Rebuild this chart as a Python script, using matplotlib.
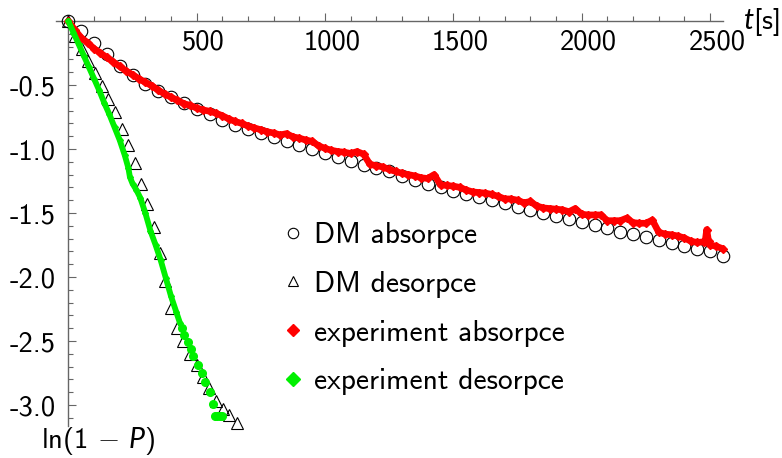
import matplotlib
matplotlib.use('Agg')
import matplotlib.pyplot as plt
import matplotlib.transforms as mtransforms
from matplotlib.lines import Line2D

# ---------------- data ----------------
dm_abs_t = [0, 50, 100, 150, 200, 250, 300, 350, 400, 450, 500, 550, 600, 650, 700,
            750, 800, 850, 900, 950, 1000, 1050, 1100, 1150, 1200, 1250, 1300, 1350,
            1400, 1450, 1500, 1550, 1600, 1650, 1700, 1750, 1800, 1850, 1900, 1950,
            2000, 2050, 2100, 2150, 2200, 2250, 2300, 2350, 2400, 2450, 2500, 2550]
dm_abs_y = [0, -0.08, -0.17, -0.26, -0.35, -0.42, -0.49, -0.545, -0.595, -0.64, -0.685,
            -0.73, -0.77, -0.81, -0.84, -0.875, -0.905, -0.94, -0.97, -1.0, -1.03, -1.06,
            -1.095, -1.125, -1.15, -1.175, -1.21, -1.24, -1.27, -1.3, -1.325, -1.35,
            -1.375, -1.4, -1.425, -1.45, -1.475, -1.5, -1.52, -1.55, -1.57, -1.595, -1.62,
            -1.645, -1.665, -1.685, -1.71, -1.735, -1.76, -1.78, -1.8, -1.835]

dm_des_t = [0, 26, 52, 78, 104, 130, 156, 182, 208, 234, 260, 283, 308, 334, 356, 378,
            400, 422, 448, 474, 500, 524, 549, 576, 601, 627, 656]
dm_des_y = [0, -0.12, -0.22, -0.31, -0.41, -0.51, -0.61, -0.71, -0.84, -0.97, -1.11,
            -1.27, -1.43, -1.61, -1.81, -2.03, -2.24, -2.40, -2.50, -2.60, -2.69, -2.78,
            -2.87, -2.97, -3.03, -3.08, -3.14]

exp_abs_t = [0, 25, 50, 75, 100, 125, 150, 175, 200, 225, 250, 275, 300, 325, 350, 375,
             400, 425, 450, 475, 500, 525, 550, 575, 600, 625, 650, 675, 700, 725, 750,
             775, 800, 825, 850, 875, 900, 925, 950, 975, 1000, 1025, 1050, 1075, 1100,
             1125, 1150, 1175, 1200, 1225, 1250, 1275, 1300, 1325, 1350, 1375, 1400,
             1425, 1450, 1475, 1500, 1525, 1550, 1575, 1600, 1625, 1650, 1675, 1700,
             1725, 1750, 1775, 1800, 1825, 1850, 1875, 1900, 1925, 1950, 1975, 2000,
             2025, 2050, 2075, 2100, 2125, 2150, 2175, 2200, 2225, 2250, 2275, 2300,
             2325, 2350, 2375, 2400, 2425, 2450, 2475, 2481, 2487, 2494, 2500, 2525, 2550]
exp_abs_y = [0, -0.07, -0.13, -0.17, -0.215, -0.25, -0.285, -0.32, -0.355, -0.39, -0.42,
             -0.45, -0.48, -0.505, -0.54, -0.57, -0.595, -0.62, -0.645, -0.66, -0.68,
             -0.695, -0.705, -0.72, -0.74, -0.765, -0.785, -0.80, -0.82, -0.835, -0.85,
             -0.865, -0.875, -0.89, -0.88, -0.905, -0.915, -0.93, -0.94, -0.975, -0.995,
             -1.01, -1.02, -1.025, -1.035, -1.02, -1.04, -1.12, -1.13, -1.14, -1.16,
             -1.175, -1.19, -1.20, -1.21, -1.225, -1.23, -1.20, -1.28, -1.285, -1.29,
             -1.30, -1.32, -1.335, -1.34, -1.345, -1.355, -1.37, -1.39, -1.39, -1.40,
             -1.42, -1.41, -1.445, -1.46, -1.465, -1.47, -1.475, -1.49, -1.465, -1.51,
             -1.515, -1.515, -1.515, -1.56, -1.56, -1.56, -1.54, -1.575, -1.58, -1.58,
             -1.555, -1.65, -1.665, -1.67, -1.68, -1.695, -1.72, -1.73, -1.725, -1.72,
             -1.63, -1.72, -1.75, -1.76, -1.78]

exp_des_t = [0, 20, 40, 60, 80, 100, 120, 140, 160, 180, 200, 220, 234, 240, 250, 265,
             280, 300, 320, 340, 360, 380, 400, 420, 435]
exp_des_y = [0, -0.09, -0.18, -0.27, -0.36, -0.45, -0.54, -0.64, -0.73, -0.83, -0.93,
             -1.05, -1.15, -1.22, -1.27, -1.32, -1.38, -1.50, -1.64, -1.75, -1.87, -2.01,
             -2.15, -2.27, -2.36]
exp_des_tail_t = [442, 451, 468, 477, 487, 506, 520, 532, 552, 565, 570, 580, 590, 598]
exp_des_tail_y = [-2.40, -2.453, -2.505, -2.565, -2.62, -2.687, -2.75, -2.82, -2.90,
                  -2.99, -3.086, -3.086, -3.086, -3.086]

x_major = [500, 1000, 1500, 2000, 2500]
x_minor = [100, 200, 300, 400, 600, 700, 800, 900, 1100, 1200, 1300, 1400, 1600, 1700,
           1800, 1900, 2100, 2200, 2300, 2400, 2500]
y_major = [-0.5, -1.0, -1.5, -2.0, -2.5, -3.0]
y_major_labels = ['-0.5', '-1.0', '-1.5', '-2.0', '-2.5', '-3.0']
y_minor = [-0.1, -0.2, -0.3, -0.4, -0.6, -0.7, -0.8, -0.9, -1.1, -1.2, -1.3, -1.4,
           -1.6, -1.7, -1.8, -1.9, -2.1, -2.2, -2.3, -2.4, -2.6, -2.7, -2.8, -2.9, -3.1]

legend_labels = ['DM absorpce', 'DM desorpce', 'experiment absorpce', 'experiment desorpce']

# ---------------- style ----------------
plt.rcParams['font.family'] = ['cmss10', 'DejaVu Sans']
plt.rcParams['mathtext.fontset'] = 'custom'
plt.rcParams['mathtext.rm'] = 'cmss10'
plt.rcParams['mathtext.it'] = 'Lato:italic'
plt.rcParams['axes.unicode_minus'] = False

FS = 20.5
FS_LEG = 21.2
RED = '#ff0000'
GREEN = '#00f000'
AXC = '#666666'

fig = plt.figure(figsize=(7.82, 4.58), dpi=100)
W, H = 782, 458
ax = fig.add_axes([55.5 / W, (H - 425.5) / H, (722.9 - 55.5) / W, (425.5 - 14.6) / H])
ax.set_xlim(-50, 2550)
ax.set_ylim(-3.16, 0.05)

for s in ['top', 'right']:
    ax.spines[s].set_visible(False)
ax.spines['bottom'].set_position(('data', 0))
ax.spines['left'].set_position(('data', 0))
ax.spines['left'].set_bounds(-3.16, 0)
for s in ['bottom', 'left']:
    ax.spines[s].set_color(AXC)
    ax.spines[s].set_linewidth(1.0)

ax.set_xticks(x_major)
ax.set_xticklabels([str(v) for v in x_major])
ax.set_xticks(x_minor, minor=True)
ax.set_yticks(y_major)
ax.set_yticklabels(y_major_labels)
ax.set_yticks(y_minor, minor=True)
ax.tick_params(axis='both', which='both', direction='in', colors=AXC, labelcolor='black',
               labelsize=FS, width=0.8)
ax.tick_params(axis='both', which='major', length=5.5)
ax.tick_params(axis='both', which='minor', length=3.5)
ax.tick_params(axis='x', which='major', pad=6)
ax.tick_params(axis='y', which='major', pad=9)
offset = mtransforms.ScaledTranslation(7 / 100, 0, fig.dpi_scale_trans)
for lab in ax.get_xticklabels():
    lab.set_transform(lab.get_transform() + offset)

# ---------------- data marks ----------------
ax.plot(dm_abs_t, dm_abs_y, ls='none', marker='o', ms=9, mfc='none', mec='black',
        mew=0.8, zorder=3, clip_on=False)
ax.plot(dm_des_t, dm_des_y, ls='none', marker='^', ms=9, mfc='none', mec='black',
        mew=0.8, zorder=3, clip_on=False)
ax.plot(exp_abs_t, exp_abs_y, color=RED, lw=4.8, marker='D', ms=3.8, mec=RED,
        solid_joinstyle='round', solid_capstyle='round', zorder=4, clip_on=False)
ax.plot(exp_des_t, exp_des_y, color=GREEN, lw=4.2, marker='D', ms=3.0, mec=GREEN,
        solid_joinstyle='round', solid_capstyle='round', zorder=4, clip_on=False)
ax.plot(exp_des_tail_t, exp_des_tail_y, ls='none', marker='o', ms=5.5, color=GREEN,
        mec=GREEN, zorder=4, clip_on=False)

# ---------------- legend ----------------
handles = [
    Line2D([], [], ls='none', marker='o', ms=7.5, mfc='none', mec='black', mew=0.8),
    Line2D([], [], ls='none', marker='^', ms=7.5, mfc='none', mec='black', mew=0.8),
    Line2D([], [], ls='none', marker='D', ms=6.0, color=RED),
    Line2D([], [], ls='none', marker='D', ms=7.0, color=GREEN),
]
ax.legend(handles, legend_labels, loc='upper left', bbox_to_anchor=(281.5 / W, 1 - 222 / H),
          bbox_transform=fig.transFigure, frameon=False, fontsize=FS_LEG, handlelength=0.75,
          handletextpad=0.35, labelspacing=0.74, borderpad=0, borderaxespad=0)

# ---------------- axis labels ----------------
fig.text(743 / W, 1 - 22 / H, r'$t$[s]', fontsize=FS, ha='left', va='center')
fig.text(98 / W, 1 - 441 / H, r'ln(1 $-$ $P$)', fontsize=FS, ha='center', va='center')

fig.savefig('out.png', dpi=100)
